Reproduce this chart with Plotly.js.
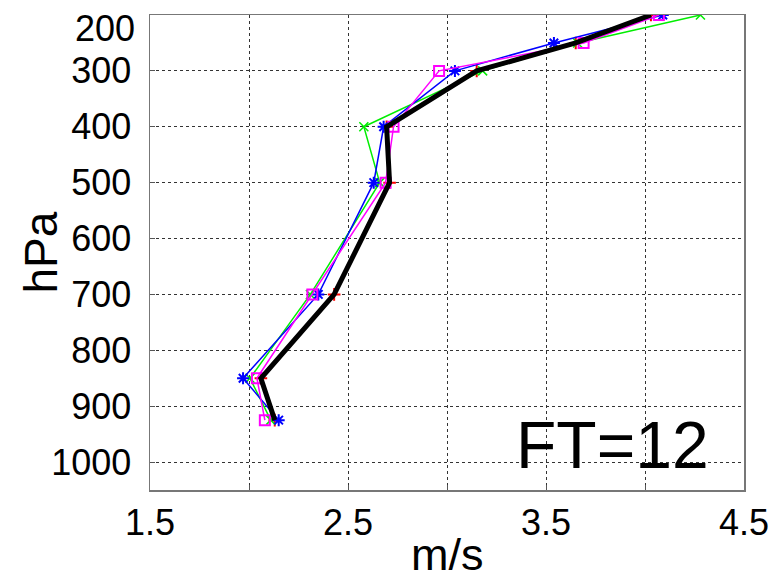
<!DOCTYPE html>
<html>
<head>
<meta charset="utf-8">
<script src="https://cdn.plot.ly/plotly-3.0.1.min.js"></script>
<style>html,body{margin:0;padding:0;background:#fff;}#chart{width:777px;height:581px;}</style>
</head>
<body>
<div id="chart"></div>
<script>
const levels = [200, 250, 300, 400, 500, 700, 850, 925];
const redVals = [4.03, 3.65, 3.15, 2.695, 2.71, 2.43, 2.06, 2.13];
const greenVals = [4.28, 3.66, 3.18, 2.58, 2.66, 2.31, 2.005, 2.11];
const blueVals = [4.09, 3.54, 3.04, 2.68, 2.63, 2.35, 1.97, 2.15];
const magentaVals = [4.07, 3.69, 2.96, 2.73, 2.69, 2.32, 2.04, 2.08];
const blackVals = [4.03, 3.65, 3.15, 2.695, 2.71, 2.43, 2.06, 2.13];
const xTickVals = [1.5, 2, 2.5, 3, 3.5, 4, 4.5];
const xTickText = ['1.5', '', '2.5', '', '3.5', '', '4.5'];
const yTickVals = [200, 300, 400, 500, 600, 700, 800, 900, 1000];
const yTickText = ['200', '300', '400', '500', '600', '700', '800', '900', '1000'];

const traces = [
  {x: redVals, y: levels, mode: 'lines+markers', line: {color: '#ff0000', width: 1.5},
   marker: {symbol: 'cross-thin-open', size: 9, color: '#ff0000', line: {color: '#ff0000', width: 2}}},
  {x: greenVals, y: levels, mode: 'lines+markers', line: {color: '#00ee00', width: 1.5},
   marker: {symbol: 'x-thin-open', size: 9, color: '#00ee00', line: {color: '#00ee00', width: 1.5}}},
  {x: blueVals, y: levels, mode: 'lines+markers', line: {color: '#0000ff', width: 1.5},
   marker: {symbol: 'asterisk-open', size: 10, color: '#0000ff', line: {color: '#0000ff', width: 2}}},
  {x: magentaVals, y: levels, mode: 'lines+markers', line: {color: '#ff00ff', width: 1.5},
   marker: {symbol: 'square-open', size: 10, color: '#ff00ff', line: {color: '#ff00ff', width: 2}}},
  {x: blackVals, y: levels, mode: 'lines', line: {color: '#000000', width: 5}}
];

// first y label drawn separately (slightly below the top edge, as in the original)
const yTickTextShown = yTickText.map((t, i) => i === 0 ? '' : t);

const layout = {
  width: 777, height: 581,
  margin: {l: 150, r: 33, t: 15, b: 91},
  paper_bgcolor: '#ffffff', plot_bgcolor: '#ffffff',
  showlegend: false,
  font: {family: 'Liberation Sans, Arial, sans-serif', color: '#000'},
  xaxis: {
    range: [1.5, 4.5], tickvals: xTickVals, ticktext: xTickText,
    tickfont: {size: 36}, ticks: 'inside', ticklen: 5, tickcolor: '#555',
    showgrid: true, gridcolor: '#333', griddash: 'dot', gridwidth: 1,
    showline: true, linecolor: '#777', linewidth: 1.5, mirror: true,
    zeroline: false, ticklabelstandoff: 0
  },
  yaxis: {
    range: [1050, 200], tickvals: yTickVals, ticktext: yTickTextShown,
    tickfont: {size: 36}, ticks: 'inside', ticklen: 5, tickcolor: '#555',
    showgrid: true, gridcolor: '#333', griddash: 'dot', gridwidth: 1,
    showline: true, linecolor: '#777', linewidth: 1.5, mirror: true,
    zeroline: false, ticklabelstandoff: 10
  },
  annotations: [
    {text: yTickText[0], xref: 'paper', yref: 'paper', x: -0.0219, y: 0.972, xanchor: 'right', yanchor: 'middle',
     showarrow: false, font: {size: 36, color: '#000'}},
    {text: 'hPa', xref: 'paper', yref: 'paper', x: -0.185, y: 0.5, xanchor: 'center', yanchor: 'middle',
     textangle: -90, showarrow: false, font: {size: 46, color: '#000'}},
    {text: 'm/s', xref: 'paper', yref: 'paper', x: 0.5, y: -0.136, xanchor: 'center', yanchor: 'middle',
     showarrow: false, font: {size: 45, color: '#000'}},
    {text: 'FT=12', xref: 'paper', yref: 'paper', x: 0.778, y: 0.012, xanchor: 'center', yanchor: 'bottom',
     showarrow: false, font: {size: 66, color: '#000'}}
  ]
};

Plotly.newPlot('chart', traces, layout, {displayModeBar: false, staticPlot: true});
</script>
</body>
</html>
